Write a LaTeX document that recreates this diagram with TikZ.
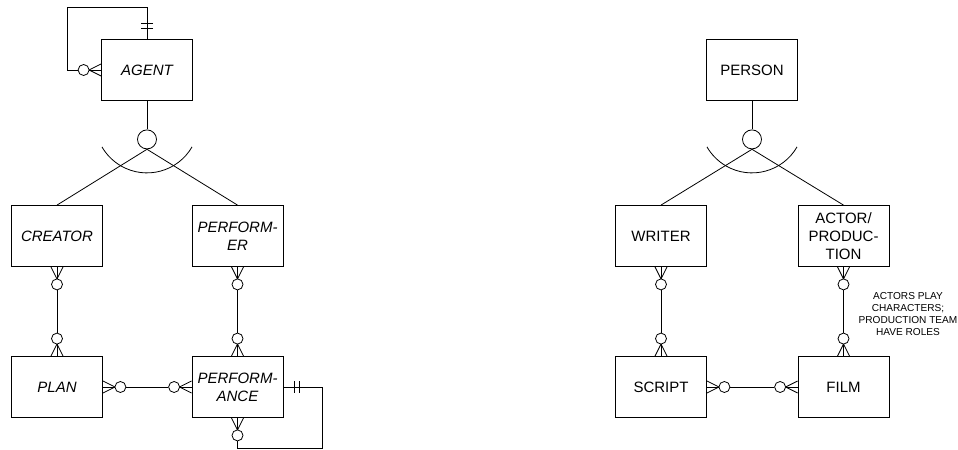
\documentclass[tikz,border=0pt]{standalone}
\usepackage{fontspec}
\setmainfont{Liberation Sans}
\tikzset{
  ent/.style={draw, line width=0.8bp, minimum width=91bp, minimum height=61bp, inner sep=1bp, align=center, font=\fontsize{15bp}{18bp}\selectfont},
  ital/.style={font=\fontsize{15bp}{18bp}\selectfont\itshape},
  zc/.style={draw, circle, line width=0.8bp, minimum size=11bp, inner sep=0pt, fill=white},
  gc/.style={draw, circle, line width=0.8bp, minimum size=19bp, inner sep=0pt, fill=white},
  conn/.style={line width=0.8bp},
  note/.style={align=center, font=\fontsize{10.1bp}{11.8bp}\selectfont}
}
% crow's foot + circle: #1 circle name, #2 anchor, #3 dx, #4 dy
\newcommand\zmany[4]{%
  \draw[conn] ([shift={({-6*(#4)},{6*(#3)})}]#2) -- ([shift={({12*(#3)},{12*(#4)})}]#2) -- ([shift={({6*(#4)},{-6*(#3)})}]#2);
  \draw[conn] (#2) -- ([shift={({12*(#3)},{12*(#4)})}]#2);
  \node[zc] (#1) at ([shift={({17.5*(#3)},{17.5*(#4)})}]#2) {};}
% one-and-only-one bars
\newcommand\onebar[3]{%
  \draw[conn] ([shift={({11*(#2)-6*(#3)},{11*(#3)+6*(#2)})}]#1) -- ([shift={({11*(#2)+6*(#3)},{11*(#3)-6*(#2)})}]#1);
  \draw[conn] ([shift={({16*(#2)-6*(#3)},{16*(#3)+6*(#2)})}]#1) -- ([shift={({16*(#2)+6*(#3)},{16*(#3)-6*(#2)})}]#1);}
\begin{document}
\begin{tikzpicture}[x=1bp,y=-1bp]
\useasboundingbox (0,0) rectangle (958,450);
% ---------- left diagram ----------
\node[ent, ital] (agent) at (147,70) {AGENT};
\node[ent, ital] (creator) at (57,236) {CREATOR};
\node[ent, ital] (performer) at (237.5,236) {PERFORM-\\ER};
\node[ent, ital] (plan) at (57,387) {PLAN};
\node[ent, ital] (performance) at (237.5,387) {PERFORM-\\ANCE};
% generalisation
\node[gc] (g1) at ([yshift=-38.5bp]agent.south) {};
\draw[conn] (agent.south) -- (g1.north);
\draw[conn] (g1.south) -- (creator.north);
\draw[conn] (g1.south) -- (performer.north);
\draw[conn] ([shift={(45.03,7.5)}]g1.center) arc[start angle=30, end angle=150, radius=52];
% agent self loop
\zmany{ac}{agent.west}{-1}{0}
\onebar{agent.north}{0}{-1}
\draw[conn] (ac.west) -- ++(-10,0) -- ++(0,-63) -| (agent.north);
% creator - plan
\zmany{c1}{creator.south}{0}{1}
\zmany{c2}{plan.north}{0}{-1}
\draw[conn] (c1) -- (c2);
% performer - performance
\zmany{p1}{performer.south}{0}{1}
\zmany{p2}{performance.north}{0}{-1}
\draw[conn] (p1) -- (p2);
% plan - performance
\zmany{h1}{plan.east}{1}{0}
\zmany{h2}{performance.west}{-1}{0}
\draw[conn] (h1) -- (h2);
% performance self loop
\zmany{pb}{performance.south}{0}{1}
\onebar{performance.east}{1}{0}
\draw[conn] (performance.east) -- ++(39,0) -- ++(0,61.5) -| (pb.south);
% ---------- right diagram ----------
\node[ent] (person) at (752,70) {PERSON};
\node[ent] (writer) at (661,236) {WRITER};
\node[ent] (actor) at (843.5,236) {ACTOR/\\PRODUC-\\TION};
\node[ent] (script) at (661,387) {SCRIPT};
\node[ent] (film) at (843.5,387) {FILM};
\node[gc] (g2) at ([yshift=-38.5bp]person.south) {};
\draw[conn] (person.south) -- (g2.north);
\draw[conn] (g2.south) -- (writer.north);
\draw[conn] (g2.south) -- (actor.north);
\draw[conn] ([shift={(45.03,7.5)}]g2.center) arc[start angle=30, end angle=150, radius=52];
\zmany{w1}{writer.south}{0}{1}
\zmany{w2}{script.north}{0}{-1}
\draw[conn] (w1) -- (w2);
\zmany{a1}{actor.south}{0}{1}
\zmany{a2}{film.north}{0}{-1}
\draw[conn] (a1) -- (a2);
\zmany{s1}{script.east}{1}{0}
\zmany{s2}{film.west}{-1}{0}
\draw[conn] (s1) -- (s2);
\node[note] (nt) at (908,314) {ACTORS PLAY\\CHARACTERS;\\PRODUCTION TEAM\\HAVE ROLES};
\end{tikzpicture}
\end{document}
